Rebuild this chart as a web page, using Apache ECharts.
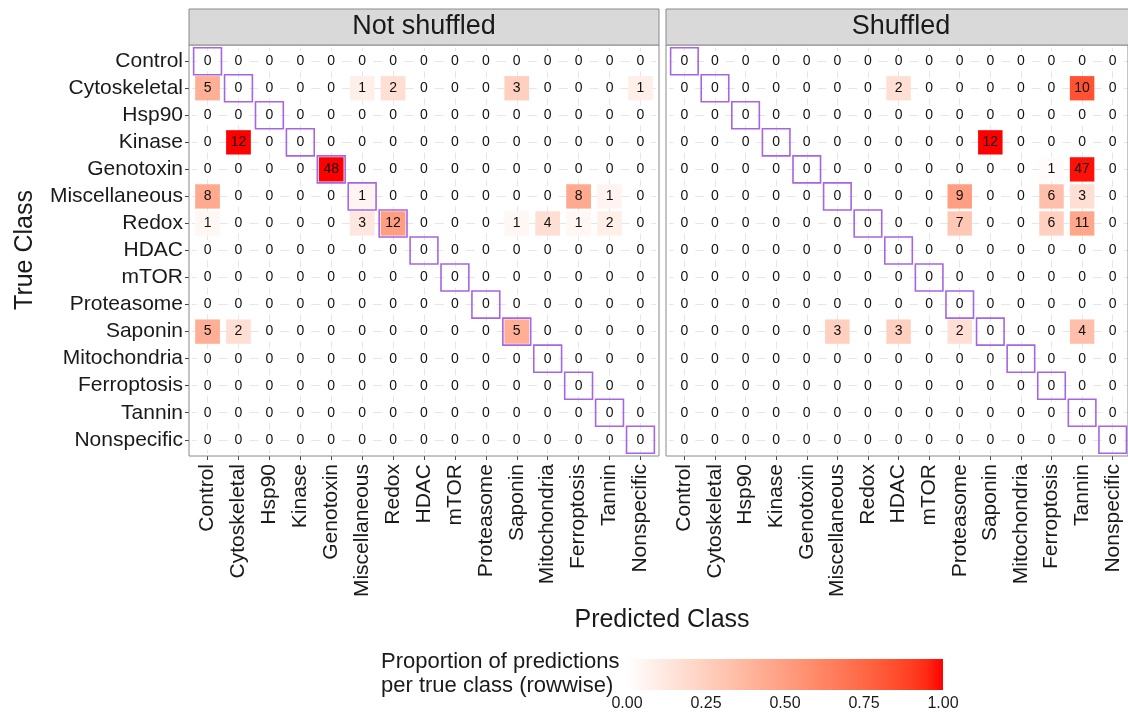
<!DOCTYPE html>
<html>
<head>
<meta charset="utf-8">
<script src="https://cdn.jsdelivr.net/npm/echarts@6/dist/echarts.min.js"></script>
<style>
  html, body { margin: 0; padding: 0; background: #fff; overflow: hidden; }
  #chart { width: 1128px; height: 714px; }
</style>
</head>
<body>
<div id="chart"></div>
<script>
// ---------- data ----------
const categories = ['Control','Cytoskeletal','Hsp90','Kinase','Genotoxin','Miscellaneous','Redox','HDAC','mTOR','Proteasome','Saponin','Mitochondria','Ferroptosis','Tannin','Nonspecific'];
const panelTitles = ['Not shuffled', 'Shuffled'];
const legendTicks = [0, 0.25, 0.5, 0.75, 1];

// rows = true class, columns = predicted class
const notShuffled = [
  [0,0,0,0,0,0,0,0,0,0,0,0,0,0,0],
  [5,0,0,0,0,1,2,0,0,0,3,0,0,0,1],
  [0,0,0,0,0,0,0,0,0,0,0,0,0,0,0],
  [0,12,0,0,0,0,0,0,0,0,0,0,0,0,0],
  [0,0,0,0,48,0,0,0,0,0,0,0,0,0,0],
  [8,0,0,0,0,1,0,0,0,0,0,0,8,1,0],
  [1,0,0,0,0,3,12,0,0,0,1,4,1,2,0],
  [0,0,0,0,0,0,0,0,0,0,0,0,0,0,0],
  [0,0,0,0,0,0,0,0,0,0,0,0,0,0,0],
  [0,0,0,0,0,0,0,0,0,0,0,0,0,0,0],
  [5,2,0,0,0,0,0,0,0,0,5,0,0,0,0],
  [0,0,0,0,0,0,0,0,0,0,0,0,0,0,0],
  [0,0,0,0,0,0,0,0,0,0,0,0,0,0,0],
  [0,0,0,0,0,0,0,0,0,0,0,0,0,0,0],
  [0,0,0,0,0,0,0,0,0,0,0,0,0,0,0]
];
const shuffled = [
  [0,0,0,0,0,0,0,0,0,0,0,0,0,0,0],
  [0,0,0,0,0,0,0,2,0,0,0,0,0,10,0],
  [0,0,0,0,0,0,0,0,0,0,0,0,0,0,0],
  [0,0,0,0,0,0,0,0,0,0,12,0,0,0,0],
  [0,0,0,0,0,0,0,0,0,0,0,0,1,47,0],
  [0,0,0,0,0,0,0,0,0,9,0,0,6,3,0],
  [0,0,0,0,0,0,0,0,0,7,0,0,6,11,0],
  [0,0,0,0,0,0,0,0,0,0,0,0,0,0,0],
  [0,0,0,0,0,0,0,0,0,0,0,0,0,0,0],
  [0,0,0,0,0,0,0,0,0,0,0,0,0,0,0],
  [0,0,0,0,0,3,0,3,0,2,0,0,0,4,0],
  [0,0,0,0,0,0,0,0,0,0,0,0,0,0,0],
  [0,0,0,0,0,0,0,0,0,0,0,0,0,0,0],
  [0,0,0,0,0,0,0,0,0,0,0,0,0,0,0],
  [0,0,0,0,0,0,0,0,0,0,0,0,0,0,0]
];

// ---------- colour scale: white -> red interpolated in CIELAB (like ggplot) ----------
function srgbToLab(rgb) {
  const lin = rgb.map(v => { v /= 255; return v <= 0.04045 ? v / 12.92 : Math.pow((v + 0.055) / 1.055, 2.4); });
  const X = (0.4124 * lin[0] + 0.3576 * lin[1] + 0.1805 * lin[2]) / 0.95047;
  const Y = (0.2126 * lin[0] + 0.7152 * lin[1] + 0.0722 * lin[2]);
  const Z = (0.0193 * lin[0] + 0.1192 * lin[1] + 0.9505 * lin[2]) / 1.08883;
  const f = t => t > 0.008856 ? Math.cbrt(t) : 7.787 * t + 16 / 116;
  const fx = f(X), fy = f(Y), fz = f(Z);
  return [116 * fy - 16, 500 * (fx - fy), 200 * (fy - fz)];
}
function labToSrgb(lab) {
  const fy = (lab[0] + 16) / 116, fx = fy + lab[1] / 500, fz = fy - lab[2] / 200;
  const fi = t => t * t * t > 0.008856 ? t * t * t : (t - 16 / 116) / 7.787;
  const X = fi(fx) * 0.95047, Y = fi(fy), Z = fi(fz) * 1.08883;
  const r = 3.2406 * X - 1.5372 * Y - 0.4986 * Z;
  const g = -0.9689 * X + 1.8758 * Y + 0.0415 * Z;
  const b = 0.0557 * X - 0.2040 * Y + 1.0570 * Z;
  return [r, g, b].map(v => {
    v = v <= 0.0031308 ? 12.92 * v : 1.055 * Math.pow(v, 1 / 2.4) - 0.055;
    return Math.max(0, Math.min(255, Math.round(v * 255)));
  });
}
const labLow = srgbToLab([255, 255, 255]), labHigh = srgbToLab([255, 0, 0]);
const rampColors = [];
for (let i = 0; i <= 20; i++) {
  const t = i / 20;
  const c = labToSrgb(labLow.map((v, k) => v + (labHigh[k] - v) * t));
  rampColors.push('rgb(' + c.join(',') + ')');
}

// ---------- series data: [predicted idx, true idx, count, row-wise proportion] ----------
function toCells(matrix) {
  const cells = [];
  matrix.forEach((row, yi) => {
    const total = row.reduce((a, b) => a + b, 0);
    row.forEach((n, xi) => { cells.push([xi, yi, n, total > 0 ? n / total : 0]); });
  });
  return cells;
}

const FONT = '"Liberation Sans", Arial, Helvetica, sans-serif';
const PURPLE = '#a466e3';
const BORDER = '#8a8a8a';

function renderCell(params, api) {
  const x = api.value(0), y = api.value(1), n = api.value(2);
  const c = api.coord([x, y]);
  const s = api.size([1, 1]);
  const children = [];
  if (n > 0) {
    children.push({ type: 'rect',
      shape: { x: c[0] - s[0] * 0.4, y: c[1] - s[1] * 0.45, width: s[0] * 0.8, height: s[1] * 0.9 },
      style: { fill: api.visual('color') } });
  }
  if (x === y) {
    children.push({ type: 'rect',
      shape: { x: c[0] - s[0] * 0.45, y: c[1] - s[1] * 0.5, width: s[0] * 0.9, height: s[1] },
      style: { fill: 'none', stroke: PURPLE, lineWidth: 1.6 } });
  }
  children.push({ type: 'text',
    style: { text: String(n), x: c[0], y: c[1], align: 'center', verticalAlign: 'middle',
      font: '14px ' + FONT, fill: '#111',
      backgroundColor: n > 0 ? 'transparent' : '#ffffff', padding: [3, 7] } });
  return { type: 'group', children };
}

// panel layout (ggplot-style discrete expansion of 0.6 units each side)
const panelTop = 45, panelH = 411, panelW = 470;
const panelLefts = [189, 666];
const nCat = categories.length;
const padX = panelW / (nCat + 0.2) * 0.1;
const padY = panelH / (nCat + 0.2) * 0.1;

const chart = echarts.init(document.getElementById('chart'), null, { renderer: 'canvas' });

function gridFor(left) {
  return { left: left + padX, top: panelTop + padY, width: panelW - 2 * padX, height: panelH - 2 * padY, show: false, containLabel: false };
}
function frameGrid(left) {
  return { left: left, top: panelTop, width: panelW, height: panelH, show: true, borderColor: BORDER, borderWidth: 1, backgroundColor: 'transparent', z: 5 };
}
function xAxisFor(gi) {
  return { type: 'category', gridIndex: gi, data: categories, offset: padY,
    axisLine: { show: false },
    axisTick: { show: true, alignWithLabel: true, length: 4, lineStyle: { color: '#444' } },
    axisLabel: { rotate: 90, fontSize: 21, fontFamily: FONT, color: '#1a1a1a', margin: 8, interval: 0 },
    splitLine: { show: true, alignWithLabel: true, lineStyle: { color: '#e6e6e6', width: 1 } } };
}
function yAxisFor(gi, showLabels) {
  return { type: 'category', gridIndex: gi, data: categories, inverse: true, offset: padX,
    axisLine: { show: false },
    axisTick: { show: showLabels, alignWithLabel: true, length: 4, lineStyle: { color: '#444' } },
    axisLabel: { show: showLabels, fontSize: 21, fontFamily: FONT, color: '#1a1a1a', margin: 6, interval: 0 },
    splitLine: { show: true, alignWithLabel: true, lineStyle: { color: '#e6e6e6', width: 1 } } };
}
const hiddenAxis = gi => ({ type: 'value', gridIndex: gi, show: false, min: 0, max: 1, splitLine: { show: false } });

const legendStops = rampColors.map((c, i) => ({ offset: i / (rampColors.length - 1), color: c }));

const decorations = [];
panelLefts.forEach((left, i) => {
  decorations.push({ type: 'rect', shape: { x: left, y: 9, width: panelW, height: panelTop - 9 }, style: { fill: '#d9d9d9', stroke: BORDER, lineWidth: 1 }, z: 10 });
  decorations.push({ type: 'text', x: left + panelW / 2, y: 27, style: { text: panelTitles[i], font: '27px ' + FONT, fill: '#1a1a1a', align: 'center', verticalAlign: 'middle' }, z: 11 });
});
decorations.push(
  { type: 'text', x: 662, y: 620, style: { text: 'Predicted Class', font: '25px ' + FONT, fill: '#1a1a1a', align: 'center', verticalAlign: 'middle' }, z: 11 },
  { type: 'text', x: 25, y: 250, rotation: Math.PI / 2, style: { text: 'True Class', font: '25px ' + FONT, fill: '#1a1a1a', align: 'center', verticalAlign: 'middle' }, z: 11 },
  { type: 'text', x: 381, y: 650, style: { text: 'Proportion of predictions\nper true class (rowwise)', font: '22px ' + FONT, lineHeight: 24, fill: '#1a1a1a', align: 'left', verticalAlign: 'top' }, z: 11 }
);

chart.setOption({
  backgroundColor: '#ffffff',
  animation: false,
  grid: [
    gridFor(panelLefts[0]), gridFor(panelLefts[1]),
    { left: 627, top: 659, width: 316, height: 31, show: false },
    frameGrid(panelLefts[0]), frameGrid(panelLefts[1])
  ],
  xAxis: [
    xAxisFor(0), xAxisFor(1),
    { type: 'value', gridIndex: 2, min: 0, max: 1, interval: 0.25,
      axisLine: { show: false },
      axisTick: { show: true, inside: true, length: 6, lineStyle: { color: '#ffffff', width: 1 } },
      splitLine: { show: false },
      axisLabel: { fontSize: 16, fontFamily: FONT, color: '#1a1a1a', margin: 6,
        formatter: v => legendTicks.indexOf(v) >= 0 ? v.toFixed(2) : '' } },
    hiddenAxis(3), hiddenAxis(4)
  ],
  yAxis: [
    yAxisFor(0, true), yAxisFor(1, false),
    { type: 'value', gridIndex: 2, min: 0, max: 1, show: false },
    hiddenAxis(3), hiddenAxis(4)
  ],
  visualMap: { show: false, type: 'continuous', min: 0, max: 1, dimension: 3, seriesIndex: [0, 1], inRange: { color: rampColors } },
  series: [
    { type: 'custom', xAxisIndex: 0, yAxisIndex: 0, renderItem: renderCell, data: toCells(notShuffled), clip: false, z: 3 },
    { type: 'custom', xAxisIndex: 1, yAxisIndex: 1, renderItem: renderCell, data: toCells(shuffled), clip: false, z: 3 },
    { type: 'custom', xAxisIndex: 2, yAxisIndex: 2, data: [[0, 0, 1, 1]], z: 1,
      renderItem: function (params, api) {
        const p0 = api.coord([api.value(0), api.value(1)]);
        const p1 = api.coord([api.value(2), api.value(3)]);
        return { type: 'rect',
          shape: { x: p0[0], y: p1[1], width: p1[0] - p0[0], height: p0[1] - p1[1] },
          style: { fill: new echarts.graphic.LinearGradient(0, 0, 1, 0, legendStops) } };
      } }
  ],
  graphic: decorations
});
</script>
</body>
</html>
